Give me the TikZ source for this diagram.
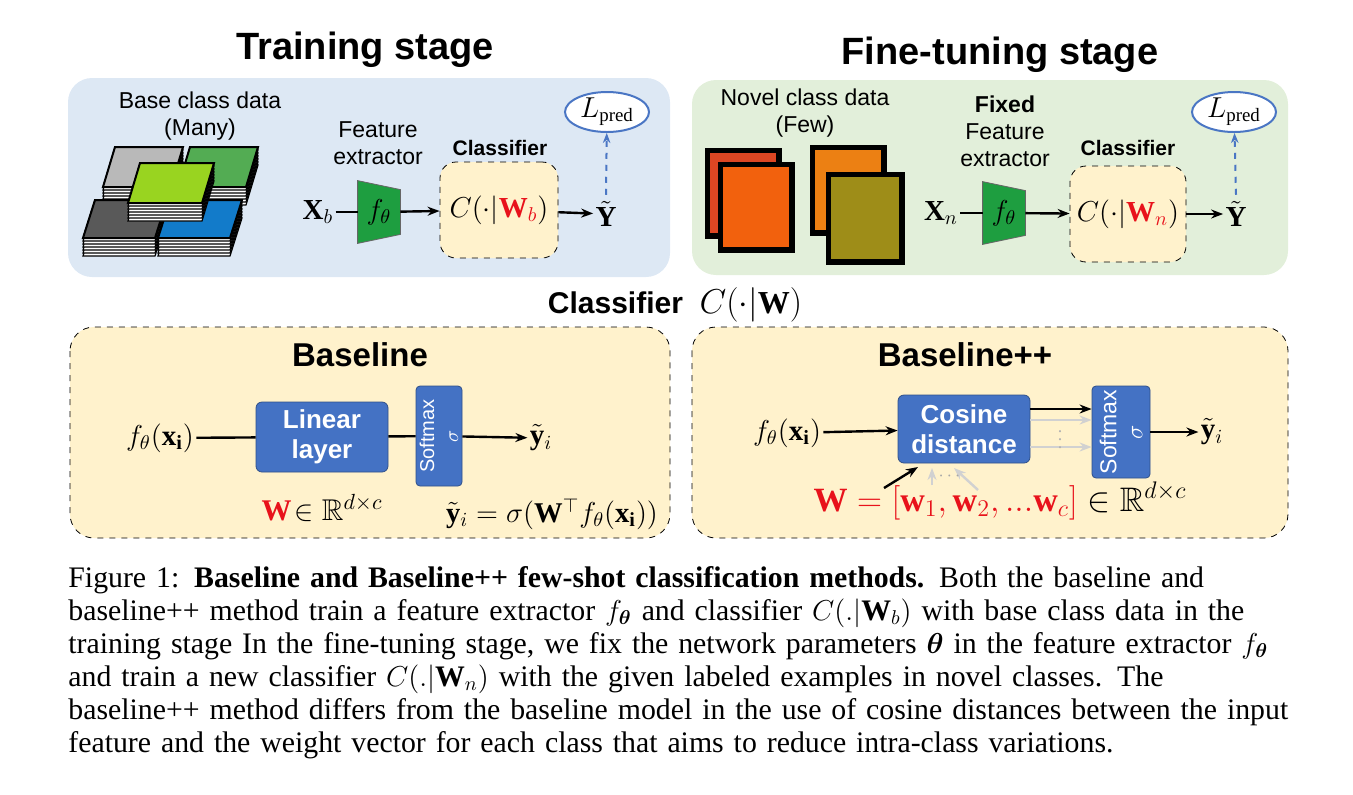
\documentclass[tikz,border=0pt]{standalone}
\usepackage{amsmath,amssymb}
\usepackage{fontspec}
\setmainfont{Liberation Serif}
\newfontfamily\arial{Liberation Sans}
\usetikzlibrary{arrows.meta,shapes.geometric,positioning}
\definecolor{trainbg}{HTML}{DDE8F4}
\definecolor{tunebg}{HTML}{E2EFDA}
\definecolor{clsbg}{HTML}{FFF2CC}
\definecolor{layerblue}{HTML}{4472C4}
\definecolor{extgreen}{HTML}{1E9E40}
\definecolor{lossblue}{HTML}{4A76C4}
\definecolor{wred}{HTML}{E8121B}
\newcommand{\photostack}[5]{% x, y, w, h, colour
  \foreach \k in {6,...,0}
    \draw[fill=white,line width=0.6pt] ({#1},{#2+#4+3*\k}) -- ({#1+12},{#2+3*\k}) -- ({#1+#3+12},{#2+3*\k}) -- ({#1+#3},{#2+#4+3*\k}) -- cycle;
  \draw[fill=#5,line width=1pt] ({#1},{#2+#4}) -- ({#1+12},{#2}) -- ({#1+#3+12},{#2}) -- ({#1+#3},{#2+#4}) -- cycle;}
\newcommand{\photoframe}[5]{% x, y, w, h, colour
  \draw[fill=black] (#1,#2) rectangle ++(#3,#4);
  \fill[#5] (#1+5,#2+5) rectangle ++(#3-10,#4-10);}
\newcommand{\extractor}[1]{% trapezoid behind node #1
  \draw[fill=extgreen,draw=black!60] (#1.north west) -- ([yshift=-4.5pt]#1.north east) -- ([yshift=4.5pt]#1.south east) -- (#1.south west) -- cycle;}
\begin{document}
\begin{tikzpicture}[x=0.5pt,y=-0.5pt,
  title/.style={font=\arial\bfseries\fontsize{19}{22}\selectfont},
  sub/.style={font=\arial\bfseries\fontsize{16.5}{18}\selectfont},
  label/.style={font=\arial\fontsize{11.5}{13.5}\selectfont,align=center},
  cls/.style={font=\arial\bfseries\fontsize{10.5}{12}\selectfont},
  math/.style={font=\fontsize{14.5}{16}\selectfont,inner sep=1pt},
  ext/.style={math,minimum width=21pt,minimum height=31pt,inner sep=0pt},
  blk/.style={fill=layerblue,draw=layerblue!70!black,rounded corners=3pt,text=white,font=\arial\bfseries\fontsize{13}{15}\selectfont,align=center},
  arr/.style={-{Stealth[length=6pt]},line width=1.2pt},
  garr/.style={arr,draw=black!18},
  loss/.style={ellipse,draw=lossblue,line width=1pt,fill=white,minimum width=42pt,minimum height=20pt,inner sep=0pt,font=\fontsize{13.5}{15}\selectfont},
  panel/.style={rounded corners=12pt}]
\useasboundingbox (0,0) rectangle (1353,794);
% stage panels
\fill[trainbg,panel] (68,78) rectangle (670,277);
\fill[tunebg,panel] (692,80) rectangle (1288,275);
\node[title] at (365,50) {Training stage};
\node[title] at (1000,55) {Fine-tuning stage};
% training stage
\node[label] at (200,116) {Base class data\\(Many)};
\photostack{103}{147}{68}{40}{gray!55}
\photostack{178}{147}{68}{40}{green!35!gray}
\photostack{83}{200}{72}{38}{gray!70!black}
\photostack{158}{200}{72}{38}{cyan!60!blue}
\photostack{128}{163}{74}{40}{yellow!60!green}
\node[label] at (378,143) {Feature\\extractor};
\node[ext] (fb) at (379,212) {};
\extractor{fb}
\node[math] at (fb) {$f_\theta$};
\node[math] (xb) at (318,212) {$\mathbf{X}_b$};
\node[cls] at (500,148) {Classifier};
\node[fill=clsbg,draw,dashed,rounded corners=8pt,minimum width=59pt,minimum height=48pt] (cb) at (499,210) {};
\node[math] at (cb) {$C(\cdot|\textcolor{wred}{\mathbf{W}_b})$};
\node[math] (yb) at (606,214) {$\tilde{\mathbf{Y}}$};
\node[loss] (lb) at (607,112) {$L_{\mathrm{pred}}$};
\draw[line width=1.2pt] (xb) -- (fb);
\draw[arr] (fb) -- (cb);
\draw[arr] (cb) -- (yb);
\draw[-{Stealth[length=5pt]},dashed,lossblue,line width=1pt] (yb.north) ++(0,-4) -- (lb);
% fine-tuning stage
\node[label] at (805,113) {Novel class data\\(Few)};
\photoframe{705}{148}{76}{90}{red!45!brown}
\photoframe{718}{162}{76}{90}{red!30!orange!80!brown}
\photoframe{810}{145}{76}{90}{orange!70!brown}
\photoframe{826}{172}{78}{92}{olive!70!brown}
\node[label] at (1005,131) {\textbf{Fixed}\\Feature\\extractor};
\node[ext] (fn) at (1004,213) {};
\extractor{fn}
\node[math] at (fn) {$f_\theta$};
\node[math] (xn) at (941,213) {$\mathbf{X}_n$};
\node[cls] at (1128,148) {Classifier};
\node[fill=clsbg,draw,dashed,rounded corners=8pt,minimum width=58pt,minimum height=48pt] (cn) at (1128,214) {};
\node[math] at (cn) {$C(\cdot|\textcolor{wred}{\mathbf{W}_n})$};
\node[math] (yn) at (1236,214) {$\tilde{\mathbf{Y}}$};
\node[loss] (ln) at (1234,112) {$L_{\mathrm{pred}}$};
\draw[line width=1.2pt] (xn) -- (fn);
\draw[arr] (fn) -- (cn);
\draw[arr] (cn) -- (yn);
\draw[-{Stealth[length=5pt]},dashed,lossblue,line width=1pt] (yn.north) ++(0,-4) -- (ln);
% classifier heading
\node[font=\arial\bfseries\fontsize{15}{18}\selectfont] at (675,305) {Classifier\ \ \fontsize{16}{18}\selectfont$C(\cdot|\mathbf{W})$};
% baseline
\draw[fill=clsbg,dashed,panel] (70,327) rectangle (670,538);
\node[sub] at (360,355) {Baseline};
\node[math] (fx1) at (160,438) {$f_\theta(\mathbf{x_i})$};
\node[blk,minimum width=66pt,minimum height=35pt] (lin) at (322,437) {Linear\\layer};
\node[blk,minimum width=23pt,minimum height=50pt,rounded corners=2pt] (sm1) at (439,436) {};
\node[rotate=90,text=white,font=\arial\fontsize{10}{12}\selectfont,align=center] at (sm1) {Softmax\\$\sigma$};
\node[math] (y1) at (541,438) {$\tilde{\mathbf{y}}_i$};
\draw[line width=1.2pt] (fx1) -- (lin);
\draw[line width=1.2pt] (lin) -- (sm1);
\draw[arr] (sm1) -- (y1);
\node[font=\fontsize{15}{18}\selectfont] at (322,508) {$\textcolor{wred}{\mathbf{W}}\!\in\mathbb{R}^{d\times c}$};
\node[font=\fontsize{14.3}{16}\selectfont] at (552,514) {$\tilde{\mathbf{y}}_i=\sigma(\mathbf{W}^{\top}f_\theta(\mathbf{x_i}))$};
% baseline++
\draw[fill=clsbg,dashed,panel] (692,327) rectangle (1288,538);
\node[sub] at (965,355) {Baseline++};
\node[math] (fx2) at (787,433) {$f_\theta(\mathbf{x_i})$};
\node[blk,minimum width=66pt,minimum height=34pt] (cos) at (964,429) {Cosine\\distance};
\node[blk,minimum width=29pt,minimum height=46pt,rounded corners=2pt] (sm2) at (1121,432) {};
\node[rotate=90,text=white,font=\arial\fontsize{11.5}{13}\selectfont,align=center] at (sm2) {Softmax\\$\sigma$};
\node[math] (y2) at (1212,432) {$\tilde{\mathbf{y}}_i$};
\draw[arr] (fx2) -- (cos);
\draw[arr] (cos.east |- 0,409) -- (sm2.west |- 0,409);
\draw[garr] (cos.east |- 0,420) -- (sm2.west |- 0,420);
\draw[garr] (cos.east |- 0,447) -- (sm2.west |- 0,447);
\node[text=black!30,font=\fontsize{9}{9}\selectfont,inner sep=0pt] at (1060,434) {$\vdots$};
\draw[arr] (sm2) -- (y2);
\node[font=\fontsize{17}{19}\selectfont] (wv) at (1000,501) {$\textcolor{wred}{\mathbf{W}=[\mathbf{w}_1,\mathbf{w}_2,...\mathbf{w}_c]}\in\mathbb{R}^{d\times c}$};
\coordinate (w1) at (884,488);
\coordinate (w2) at (932,485);
\coordinate (w3) at (978,490);
\draw[arr] (w1) -- (918,467);
\draw[garr] (w2) -- (932,468);
\draw[garr] (w3) -- (954,468);
\node[text=black!35,font=\fontsize{9}{9}\selectfont,inner sep=0pt] at (951,476) {$\cdots$};
% caption
\node[anchor=north west,inner sep=0pt,text width=640pt,align=left,font=\fontsize{14.9}{16.5}\selectfont] at (68,566) {Figure 1: \textbf{Baseline and Baseline++ few-shot classification methods.} Both the baseline and\\
baseline++ method train a feature extractor $f_{\boldsymbol{\theta}}$ and classifier $C(.|\mathbf{W}_b)$ with base class data in the\\
training stage In the fine-tuning stage, we fix the network parameters $\boldsymbol{\theta}$ in the feature extractor $f_{\boldsymbol{\theta}}$\\
and train a new classifier $C(.|\mathbf{W}_n)$ with the given labeled examples in novel classes. The\\
baseline++ method differs from the baseline model in the use of cosine distances between the input\\
feature and the weight vector for each class that aims to reduce intra-class variations.};
\end{tikzpicture}
\end{document}
